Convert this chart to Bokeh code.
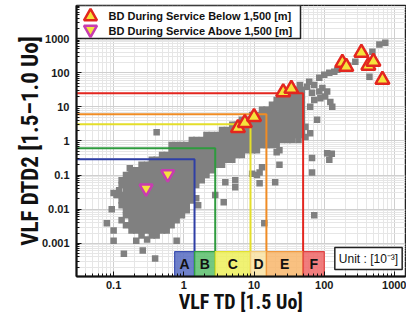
import numpy as np
from bokeh.plotting import figure
from bokeh.models import FixedTicker, CustomJSTickFormatter, Label, Range1d
from bokeh.embed import file_html
from bokeh.resources import INLINE
from bokeh.core.properties import value

# ---------------- data ----------------
# dense cloud of measurements, one row of VLF DTD2 values with its VLF TD values
core_y = [32, 22, 16, 11.5, 8.2, 5.8, 4.2, 3.0, 2.1, 1.5, 1.07, 0.76, 0.54, 0.39,
          0.28, 0.20, 0.14, 0.10, 0.071, 0.051, 0.036, 0.026, 0.018, 0.013,
          0.0094, 0.0067, 0.0048, 0.0034, 0.0024, 0.0017]
core_x = [
    [41, 48],
    [30, 35, 41, 48],
    [21, 25, 30, 35, 41, 48],
    [18, 21, 25, 30, 35, 41, 48],
    [13, 15, 18, 21, 25, 30, 35, 41, 48],
    [9.4, 11, 13, 15, 18, 21, 25, 30, 35, 41, 48],
    [6.7, 7.9, 9.4, 11, 13, 15, 18, 21, 25, 30, 35, 41, 48],
    [4.9, 5.7, 6.7, 7.9, 9.4, 11, 13, 15, 18, 21, 25, 30, 35, 41, 48],
    [3.5, 4.1, 4.9, 5.7, 6.7, 7.9, 9.4, 11, 13, 15, 18, 21, 25, 30, 35, 41, 48],
    [2.1, 2.5, 3.0, 3.5, 4.1, 4.9, 5.7, 6.7, 7.9, 9.4, 11, 13, 15, 18, 21, 25, 30, 35, 41, 48],
    [1.3, 1.5, 1.8, 2.1, 2.5, 3.0, 3.5, 4.1, 4.9, 5.7, 6.7, 7.9, 9.4, 11, 13, 15, 18, 21, 25, 30, 35, 43],
    [0.67, 0.79, 0.94, 1.1, 1.3, 1.5, 1.8, 2.1, 2.5, 3.0, 3.5, 4.1, 4.9, 5.7, 6.7, 7.9, 9.4, 11, 13, 15, 18, 21],
    [0.67, 0.79, 0.94, 1.1, 1.3, 1.5, 1.8, 2.1, 2.5, 3.0, 3.5, 4.1, 4.9, 5.7, 6.7, 7.9, 9.4, 11],
    [0.49, 0.57, 0.67, 0.79, 0.94, 1.1, 1.3, 1.5, 1.8, 2.1, 2.5, 3.0, 3.5, 4.1, 4.9, 5.7, 6.7],
    [0.35, 0.41, 0.49, 0.57, 0.67, 0.79, 0.94, 1.1, 1.3, 1.5, 1.8, 2.1, 2.5, 3.0, 3.5, 4.1, 4.9],
    [0.25, 0.30, 0.35, 0.41, 0.49, 0.57, 0.67, 0.79, 0.94, 1.1, 1.3, 1.5, 1.8, 2.1, 2.5, 3.0, 3.5],
    [0.18, 0.21, 0.25, 0.30, 0.35, 0.41, 0.49, 0.57, 0.67, 0.79, 0.94, 1.1, 1.3, 1.5, 1.8, 2.1, 2.5],
    [0.15, 0.18, 0.21, 0.25, 0.30, 0.35, 0.41, 0.49, 0.57, 0.67, 0.79, 0.94, 1.1, 1.3, 1.5, 1.8, 2.1],
    [0.13, 0.15, 0.18, 0.21, 0.25, 0.30, 0.35, 0.41, 0.49, 0.57, 0.67, 0.79, 0.94, 1.1, 1.3, 1.5, 1.8],
    [0.13, 0.15, 0.18, 0.21, 0.25, 0.30, 0.35, 0.41, 0.49, 0.57, 0.67, 0.79, 0.94, 1.1, 1.3, 1.5],
    [0.12, 0.15, 0.18, 0.21, 0.25, 0.30, 0.35, 0.41, 0.49, 0.57, 0.67, 0.79, 0.94, 1.1, 1.3],
    [0.11, 0.13, 0.15, 0.18, 0.21, 0.25, 0.30, 0.35, 0.41, 0.49, 0.57, 0.67, 0.79, 0.94, 1.1, 1.3],
    [0.13, 0.15, 0.18, 0.21, 0.25, 0.30, 0.35, 0.41, 0.49, 0.57, 0.67, 0.79, 0.94, 1.1, 1.3],
    [0.13, 0.15, 0.18, 0.21, 0.25, 0.30, 0.35, 0.41, 0.49, 0.57, 0.67, 0.79, 0.94, 1.1],
    [0.15, 0.18, 0.21, 0.25, 0.30, 0.35, 0.41, 0.49, 0.57, 0.67, 0.79, 0.94, 1.1],
    [0.15, 0.18, 0.21, 0.25, 0.30, 0.35, 0.41, 0.49, 0.57, 0.67, 0.79, 0.94],
    [0.13, 0.18, 0.21, 0.25, 0.30, 0.35, 0.41, 0.49, 0.57, 0.67, 0.79],
    [0.15, 0.18, 0.21, 0.25, 0.30, 0.35, 0.41, 0.49, 0.57, 0.67],
    [0.18, 0.21, 0.25, 0.30, 0.35, 0.41, 0.49, 0.57],
    [0.25, 0.35, 0.41],
]
# scattered measurements outside the dense cloud
out_x = [45, 61, 72, 85, 100, 118, 139, 153, 220, 85, 88, 122, 130, 79, 54, 63,
         277, 485, 610, 740, 440, 57, 67, 94, 103, 72, 63, 48, 110, 128, 118, 67,
         67, 72, 110,
         3.9, 5.4, 3.7, 2.8, 12, 12, 20, 21, 23, 14, 1.6, 1.5, 11, 9.4, 0.41, 54,
         23, 13, 5.4,
         0.08, 0.10, 0.10, 0.14, 0.39, 0.21, 0.30, 0.26, 0.79, 0.094, 0.10, 0.17]
out_y = [44, 54, 44, 71, 87, 100, 107, 123, 161, 28, 18, 14, 10, 4.2, 2.6, 1.7,
         211, 415, 670, 760, 76, 39, 26, 36, 20, 16, 10, 1.7, 0.44, 0.42, 0.28, 0.32,
         0.12, 0.0067, 28,
         0.062, 0.044, 0.016, 0.026, 0.12, 0.058, 0.062, 0.47, 0.2, 0.0039, 0.013,
         0.021, 0.1, 0.11, 1.8, 1.3, 0.54, 0.17, 0.071,
         0.0039, 0.0024, 0.0012, 0.0005, 0.00036, 0.0012, 0.0013, 0.00062, 0.0012,
         0.01, 0.03, 0.16]

# breakdown during service
below_x = [5.9, 7.4, 10, 26, 34, 181, 206, 338, 425, 501, 674]
below_y = [2.4, 3.4, 5.1, 27, 34, 197, 150, 387, 161, 211, 62]
above_x = [0.29, 0.59]
above_y = [0.041, 0.107]

# grade thresholds
thr_x = [1.42, 2.8, 8.9, 15, 50]
thr_y = [0.29, 0.61, 3.1, 6.1, 25]
grade_labels = ["A", "B", "C", "D", "E", "F"]
grade_edges = [0.74, 1.42, 2.8, 8.9, 15, 50, 100]
grade_top = 5.7e-4

legend_labels = ["BD During Service Below 1,500 [m]", "BD During Service Above 1,500 [m]"]
unit_text = "Unit : [10\u207b\u00b3]"
x_ticks = [0.1, 1, 10, 100, 1000]
y_ticks = [0.001, 0.01, 0.1, 1, 10, 100, 1000]

# ---------------- style ----------------
thr_colors = ["#2f3fa6", "#2e9b3e", "#e4de2a", "#f08c24", "#e3261f"]
grade_fill = ["#5b6fc4", "#5fc070", "#eef060", "#f8e2a6", "#f8b870", "#ef6b6b"]
grade_line = ["#3b4fb0", "#30a040", "#e2e030", "#f2c878", "#f09a40", "#e04040"]
GRAY = "#808080"
TRI_FILL = "#f5e33c"
TRI_RED = "#e3261f"
TRI_MAG = "#c83cb0"
LABEL_FONT = "Roboto Condensed, Liberation Sans Narrow, DejaVu Sans Condensed, Roboto, sans-serif"

XL, XR = 0.0296, 1436.0
YB, YT = 1.07e-4, 9340.0
W, H = 406, 323
BL, BR, BT, BB = 76, 1, 5, 47
FW, FH = W - BL - BR, H - BT - BB
lx0, lx1 = np.log10(XL), np.log10(XR)
ly0, ly1 = np.log10(YB), np.log10(YT)


def fx(dx):
    return 10 ** (lx0 + dx / FW * (lx1 - lx0))


def fy(dy):
    return 10 ** (ly1 - dy / FH * (ly1 - ly0))


p = figure(width=W, height=H, x_axis_type="log", y_axis_type="log",
           x_range=Range1d(XL, XR), y_range=Range1d(YB, YT),
           output_backend="svg", toolbar_location=None,
           min_border_left=BL, min_border_right=BR, min_border_top=BT,
           min_border_bottom=BB)
p.background_fill_color = "white"
p.border_fill_color = "white"
p.outline_line_color = "#222222"
p.outline_line_width = 1.5

xminor = [m * 10.0 ** k for k in range(-2, 4) for m in range(2, 10) if XL < m * 10.0 ** k < XR]
yminor = [m * 10.0 ** k for k in range(-4, 4) for m in range(2, 10) if YB < m * 10.0 ** k < YT]
p.xaxis.ticker = FixedTicker(ticks=x_ticks, minor_ticks=xminor)
p.yaxis.ticker = FixedTicker(ticks=y_ticks, minor_ticks=yminor)
fmt = CustomJSTickFormatter(code="return tick.toString();")
p.xaxis.formatter = fmt
p.yaxis.formatter = fmt

for ax in (p.xaxis, p.yaxis):
    ax.axis_line_color = "#111111"
    ax.axis_line_width = 2
    ax.major_tick_in = 5
    ax.major_tick_out = 0
    ax.minor_tick_in = 3
    ax.minor_tick_out = 0
    ax.major_tick_line_color = "#111111"
    ax.minor_tick_line_color = "#111111"
    ax.major_label_text_font = "Liberation Sans"
    ax.major_label_text_font_style = "bold"
    ax.major_label_text_font_size = "11px"
    ax.major_label_text_color = "#1a1a1a"
    ax.axis_label_text_font = LABEL_FONT
    ax.axis_label_text_font_style = "bold"
    ax.axis_label_text_color = "#111111"

p.xaxis.axis_label = "VLF TD [1.5 Uo]"
p.yaxis.axis_label = "VLF DTD2 [1.5\u20131.0 Uo]"
p.xaxis.axis_label_text_font_size = "20px"
p.yaxis.axis_label_text_font_size = "23px"
p.xaxis.major_label_standoff = 4
p.yaxis.major_label_standoff = 7
p.xaxis.axis_label_standoff = -2
p.yaxis.axis_label_standoff = -5

p.grid.grid_line_color = "#cfcfcf"
p.grid.grid_line_width = 1
p.grid.minor_grid_line_color = "#e6e6e6"
p.grid.minor_grid_line_width = 1

# gray measurement squares
cx = [x for row in core_x for x in row]
cy = [y for row, y in zip(core_x, core_y) for _ in row]
p.scatter(cx + out_x, cy + out_y, marker="square", size=6.5,
          fill_color=GRAY, line_color=None)

# threshold lines
for tx, ty, c in zip(thr_x, thr_y, thr_colors):
    p.line([XL * 0.5, tx, tx], [ty, ty, YB * 0.5], line_color=c, line_width=2)

# grade boxes
p.quad(left=grade_edges[:-1], right=grade_edges[1:], top=[grade_top] * 6,
       bottom=[YB * 0.5] * 6, fill_color=grade_fill, fill_alpha=0.88,
       line_color=grade_line, line_width=1.2)
gx = [np.sqrt(a * b) for a, b in zip(grade_edges[:-1], grade_edges[1:])]
gy = [np.sqrt(grade_top * YB)] * 6
p.text(gx, gy, text=grade_labels, text_align="center", text_baseline="middle",
       text_font=value("Liberation Sans"), text_font_style="bold",
       text_font_size="14px", text_color="#111111")

# breakdown triangles
p.scatter(below_x, below_y, marker="triangle", size=14, fill_color=TRI_FILL,
          line_color=TRI_RED, line_width=2.5)
p.scatter(above_x, above_y, marker="inverted_triangle", size=13, fill_color=TRI_FILL,
          line_color=TRI_MAG, line_width=2.5)

# legend box (drawn manually so the markers keep their size)
p.quad(left=[fx(0)], right=[fx(224)], top=[fy(0)], bottom=[fy(33)],
       fill_color="white", line_color="#222222", line_width=1.5)
p.scatter([fx(14)], [fy(11)], marker="triangle", size=13, fill_color=TRI_FILL,
          line_color=TRI_RED, line_width=2.5)
p.scatter([fx(14)], [fy(24)], marker="inverted_triangle", size=13, fill_color=TRI_FILL,
          line_color=TRI_MAG, line_width=2.5)
p.text([fx(32)] * 2, [fy(10), fy(25)], text=legend_labels, text_baseline="middle",
       text_font=value("Liberation Sans"), text_font_style="bold",
       text_font_size="11px", text_color="#111111")

# unit box
p.add_layout(Label(x=fx(292), y=fy(253), text=unit_text, text_align="center",
                   text_baseline="middle", text_font="Liberation Sans",
                   text_font_size="12px", text_color="#111111",
                   background_fill_color="white", border_line_color="#222222",
                   border_line_width=1.5, padding=4))

open("out.html", "w").write(file_html(p, INLINE))
